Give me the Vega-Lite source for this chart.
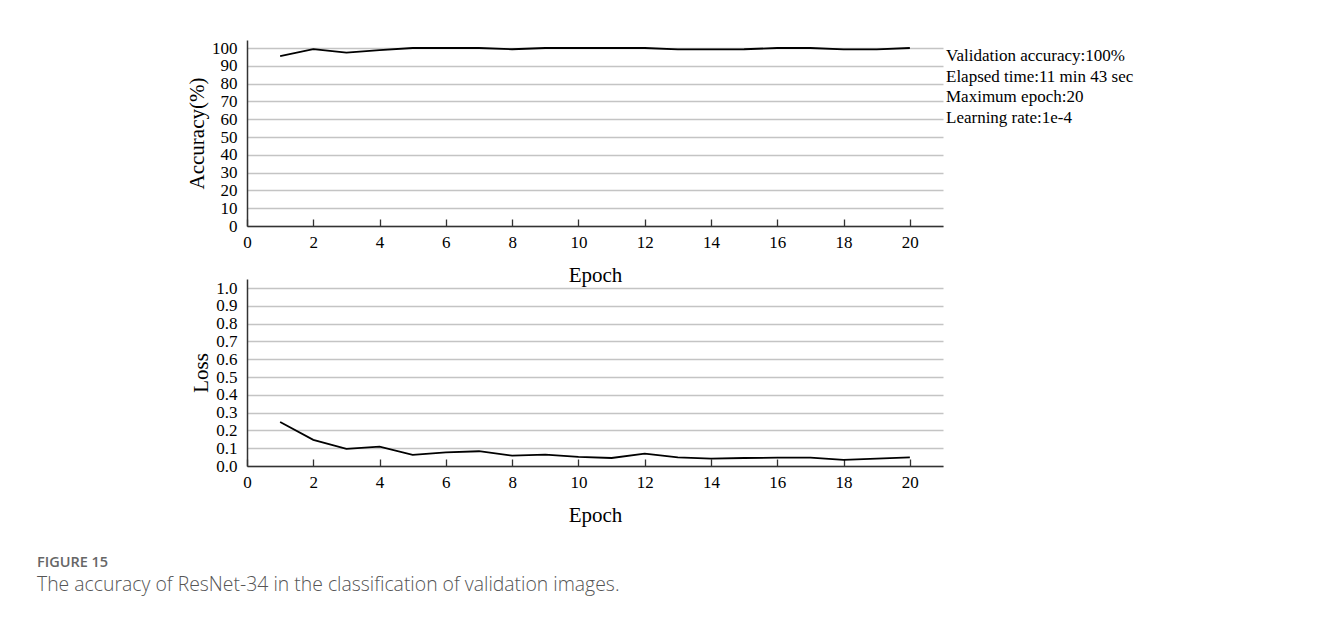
{
  "$schema": "https://vega.github.io/schema/vega-lite/v6.json",
  "background": "white",
  "padding": {"left": 37, "top": 39, "right": 10, "bottom": 10},
  "config": {
    "font": "Liberation Serif",
    "view": {"stroke": null},
    "axis": {
      "labelFont": "Liberation Serif", "labelFontSize": 17, "labelColor": "#000", "labelOverlap": false,
      "titleFont": "Liberation Serif", "titleFontSize": 21, "titleFontWeight": "normal", "titleColor": "#000",
      "domainColor": "#333", "domainWidth": 1.5, "tickColor": "#333", "tickWidth": 1.3,
      "gridColor": "#c4c4c4", "gridWidth": 1.5, "labelFlush": false
    }
  },
  "datasets": {
    "train": [
      {"epoch": 1, "accuracy": 95.5, "loss": 0.247},
      {"epoch": 2, "accuracy": 99.4, "loss": 0.147},
      {"epoch": 3, "accuracy": 97.4, "loss": 0.096},
      {"epoch": 4, "accuracy": 98.8, "loss": 0.109},
      {"epoch": 5, "accuracy": 100, "loss": 0.062},
      {"epoch": 6, "accuracy": 100, "loss": 0.077},
      {"epoch": 7, "accuracy": 100, "loss": 0.083},
      {"epoch": 8, "accuracy": 99.3, "loss": 0.058},
      {"epoch": 9, "accuracy": 100, "loss": 0.064},
      {"epoch": 10, "accuracy": 100, "loss": 0.051},
      {"epoch": 11, "accuracy": 100, "loss": 0.045},
      {"epoch": 12, "accuracy": 100, "loss": 0.069},
      {"epoch": 13, "accuracy": 99.2, "loss": 0.049},
      {"epoch": 14, "accuracy": 99.2, "loss": 0.041},
      {"epoch": 15, "accuracy": 99.3, "loss": 0.045},
      {"epoch": 16, "accuracy": 100, "loss": 0.047},
      {"epoch": 17, "accuracy": 100, "loss": 0.047},
      {"epoch": 18, "accuracy": 99.2, "loss": 0.034},
      {"epoch": 19, "accuracy": 99.2, "loss": 0.041},
      {"epoch": 20, "accuracy": 100, "loss": 0.049}
    ]
  },
  "title": {
    "text": "FIGURE 15",
    "subtitle": "The accuracy of ResNet-34 in the classification of validation images.",
    "orient": "bottom", "anchor": "start", "frame": "group", "dx": -210, "offset": 31,
    "font": "Open Sans", "fontSize": 14.5, "fontWeight": 600, "color": "#666",
    "subtitleFont": "Open Sans", "subtitleFontSize": 19.4, "subtitleFontWeight": 300, "subtitleColor": "#555", "subtitlePadding": 5
  },
  "bounds": "flush",
  "spacing": 53,
  "vconcat": [
    {
      "width": 696, "height": 186,
      "layer": [
        {
          "data": {"name": "train"},
          "mark": {"type": "line", "color": "#000", "strokeWidth": 1.8},
          "encoding": {
            "x": {"field": "epoch", "type": "quantitative", "scale": {"domain": [0, 21], "nice": false},
              "axis": {"values": [0, 2, 4, 6, 8, 10, 12, 14, 16, 18, 20], "title": "Epoch", "grid": false, "tickSize": -7, "labelPadding": 15, "titlePadding": 14}},
            "y": {"field": "accuracy", "type": "quantitative", "scale": {"domain": [0, 104.5], "nice": false},
              "axis": {"values": [0, 10, 20, 30, 40, 50, 60, 70, 80, 90, 100], "title": "Accuracy(%)", "ticks": false, "labelPadding": 10, "titlePadding": 4, "labelOverlap": false}}
          }
        },
        {
          "data": {"values": [{"note": "Validation accuracy:100%\nElapsed time:11 min 43 sec\nMaximum epoch:20\nLearning rate:1e-4"}]},
          "mark": {"type": "text", "align": "left", "baseline": "top", "fontSize": 17, "lineHeight": 20.7, "font": "Liberation Serif", "color": "#000", "dx": 3, "lineBreak": "\n"},
          "encoding": {
            "x": {"datum": 21, "type": "quantitative", "scale": {"domain": [0, 21], "nice": false},
              "axis": {"values": [0, 2, 4, 6, 8, 10, 12, 14, 16, 18, 20], "title": "Epoch", "grid": false, "tickSize": -7, "labelPadding": 15, "titlePadding": 14}},
            "y": {"datum": 100, "type": "quantitative", "scale": {"domain": [0, 104.5], "nice": false},
              "axis": {"values": [0, 10, 20, 30, 40, 50, 60, 70, 80, 90, 100], "title": "Accuracy(%)", "ticks": false, "labelPadding": 10, "titlePadding": 4, "labelOverlap": false}},
            "text": {"field": "note"}
          }
        }
      ]
    },
    {
      "width": 696, "height": 187,
      "data": {"name": "train"},
      "mark": {"type": "line", "color": "#000", "strokeWidth": 1.8},
      "encoding": {
        "x": {"field": "epoch", "type": "quantitative", "scale": {"domain": [0, 21], "nice": false},
          "axis": {"values": [0, 2, 4, 6, 8, 10, 12, 14, 16, 18, 20], "title": "Epoch", "grid": false, "tickSize": -7, "labelPadding": 15, "titlePadding": 14}},
        "y": {"field": "loss", "type": "quantitative", "scale": {"domain": [0, 1.0506], "nice": false},
          "axis": {"values": [0, 0.1, 0.2, 0.3, 0.4, 0.5, 0.6, 0.7, 0.8, 0.9, 1.0], "format": ".1f", "title": "Loss", "ticks": false, "labelPadding": 10, "titlePadding": 4}}
      }
    }
  ]
}
